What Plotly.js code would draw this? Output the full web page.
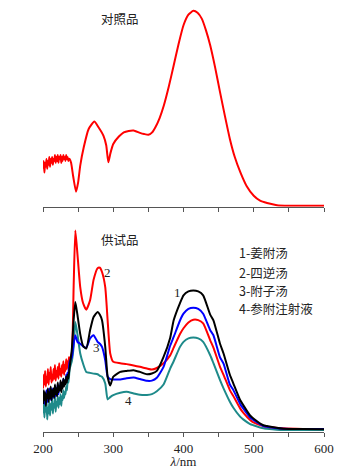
<!DOCTYPE html>
<html><head><meta charset="utf-8">
<script src="https://cdn.plot.ly/plotly-3.0.1.min.js"></script>
<style>html,body{margin:0;padding:0;background:#fff}#c{width:354px;height:469px}</style>
</head><body><div id="c"></div>
<script>
// Noisy start region wavelengths (nm)
const noiseX = [200,201,202,203,204,205,206,207,208,209,210,211,212,213,214,215,216,217,218,219,220,221,222,223,224,225,226,227,228,229,230,231,232,233,234,235,236,237,238];

// Top panel: reference substance (对照品)
const refMainX = [240,243,247,250,253,258,265,273,279,286,290,293,296,300,308,315,322,329,338,344,350,355,360,366,372,379,386,393,400,407,414,420,426,432,438,445,452,459,466,473,481,490,500,509,519,533,550,575,600];
const refNoiseY = [0.19,0.23,0.17,0.22,0.20,0.24,0.19,0.23,0.21,0.25,0.20,0.24,0.22,0.25,0.21,0.24,0.23,0.26,0.22,0.25,0.23,0.26,0.22,0.25,0.24,0.26,0.22,0.25,0.23,0.26,0.24,0.25,0.23,0.26,0.24,0.25,0.23,0.24,0.24];
const refMainY = [0.22,0.15,0.072,0.12,0.206,0.30,0.394,0.432,0.403,0.36,0.31,0.223,0.27,0.317,0.355,0.377,0.384,0.386,0.374,0.368,0.364,0.375,0.403,0.45,0.514,0.61,0.72,0.83,0.926,0.98,1.0,0.99,0.96,0.90,0.823,0.71,0.583,0.46,0.343,0.25,0.171,0.10,0.051,0.026,0.014,0.003,0.0,0.0,0.0];

// Bottom panel: samples (供试品)
const sampMainX = [241,243.6,246,249,253,257,261.6,267,272,277.7,281,284,288.6,292,295.7,300,310,319,329,338,348,355,362,371.6,381,386,395,400,407,414,421,428,438,442.6,452,457,466,471,480.6,485,494.8,499.5,513.7,518.5,542,570,600];

const s2Noise = [0.22,0.29,0.24,0.31,0.23,0.28,0.25,0.32,0.24,0.30,0.27,0.33,0.25,0.29,0.26,0.32,0.27,0.34,0.26,0.31,0.28,0.33,0.27,0.35,0.29,0.32,0.28,0.34,0.30,0.36,0.29,0.34,0.31,0.37,0.32,0.36,0.34,0.38,0.37];
const s2Main = [0.40,0.742,1.034,0.914,0.742,0.66,0.626,0.674,0.78,0.84,0.842,0.82,0.742,0.571,0.40,0.357,0.35,0.345,0.338,0.331,0.322,0.317,0.325,0.35,0.39,0.43,0.50,0.53,0.56,0.574,0.572,0.555,0.468,0.43,0.331,0.29,0.211,0.18,0.117,0.095,0.057,0.045,0.026,0.022,0.014,0.011,0.01];

const s1Noise = [0.14,0.21,0.16,0.20,0.13,0.19,0.17,0.22,0.15,0.20,0.17,0.23,0.16,0.21,0.18,0.22,0.17,0.24,0.19,0.22,0.18,0.25,0.20,0.23,0.21,0.26,0.20,0.25,0.22,0.27,0.23,0.26,0.24,0.28,0.25,0.29,0.27,0.30,0.33];
const s1Main = [0.42,0.571,0.665,0.60,0.50,0.44,0.425,0.52,0.588,0.614,0.60,0.571,0.434,0.28,0.235,0.28,0.305,0.31,0.314,0.305,0.293,0.297,0.31,0.382,0.48,0.571,0.66,0.70,0.72,0.725,0.72,0.70,0.60,0.571,0.45,0.40,0.29,0.245,0.16,0.134,0.08,0.065,0.03,0.026,0.012,0.01,0.009];

const s3Noise = [0.15,0.20,0.14,0.19,0.16,0.21,0.15,0.19,0.17,0.22,0.16,0.20,0.18,0.22,0.17,0.21,0.19,0.23,0.18,0.22,0.20,0.24,0.19,0.23,0.21,0.25,0.22,0.24,0.23,0.27,0.24,0.26,0.25,0.29,0.27,0.30,0.30,0.33,0.36];
const s3Main = [0.38,0.45,0.494,0.46,0.45,0.437,0.43,0.477,0.494,0.46,0.45,0.434,0.365,0.28,0.268,0.266,0.266,0.272,0.276,0.268,0.259,0.26,0.275,0.331,0.44,0.485,0.57,0.605,0.63,0.636,0.63,0.605,0.52,0.494,0.38,0.348,0.24,0.211,0.14,0.117,0.07,0.057,0.026,0.022,0.012,0.011,0.01];

const s4Noise = [0.09,0.15,0.07,0.13,0.10,0.16,0.06,0.12,0.09,0.15,0.08,0.14,0.11,0.17,0.09,0.14,0.12,0.18,0.10,0.15,0.13,0.18,0.12,0.17,0.14,0.19,0.13,0.18,0.16,0.21,0.17,0.20,0.19,0.23,0.21,0.25,0.25,0.28,0.32];
const s4Main = [0.36,0.434,0.562,0.50,0.40,0.348,0.305,0.30,0.296,0.293,0.285,0.28,0.245,0.163,0.175,0.185,0.197,0.202,0.194,0.187,0.186,0.19,0.205,0.24,0.322,0.36,0.434,0.46,0.478,0.482,0.478,0.46,0.391,0.35,0.262,0.22,0.151,0.12,0.074,0.06,0.036,0.03,0.014,0.012,0.005,0.005,0.005];

const tickVals = [200,250,300,350,400,450,500,550,600];
const tickText = ['200','','300','','400','','500','','600'];

const legendLines = ['1-姜附汤','2-四逆汤','3-附子汤','4-参附注射液'];
const curveLabels = ['1','2','3','4'];
const topTitle = '对照品';
const bottomTitle = '供试品';
const xTitle = '<i>λ</i>/nm';

const refX = noiseX.concat(refMainX), refY = refNoiseY.concat(refMainY);
const x2 = noiseX.concat(sampMainX);

const lw = 2;
const ln = (c)=>({color:c, width:lw, shape:'spline', smoothing:0.5});
const traces = [
  {x: refX, y: refY, xaxis:'x', yaxis:'y', mode:'lines', line:ln('#ff0000')},
  {x: x2, y: s4Noise.concat(s4Main), xaxis:'x2', yaxis:'y2', mode:'lines', line:ln('#1e8a8a')},
  {x: x2, y: s2Noise.concat(s2Main), xaxis:'x2', yaxis:'y2', mode:'lines', line:ln('#ff0000')},
  {x: x2, y: s3Noise.concat(s3Main), xaxis:'x2', yaxis:'y2', mode:'lines', line:ln('#0000ff')},
  {x: x2, y: s1Noise.concat(s1Main), xaxis:'x2', yaxis:'y2', mode:'lines', line:ln('#000000')}
];

const axisCommon = {range:[200,600], showgrid:false, zeroline:false, showline:true, linecolor:'#555', linewidth:1,
  ticks:'outside', ticklen:4, tickcolor:'#555', tickwidth:1, tickvals: tickVals, ticktext: tickText, fixedrange:true};

const cjk = '"Noto Sans CJK SC", sans-serif';
const serif = '"Liberation Serif", "Times New Roman", serif';

const ann = [
  {xref:'x', yref:'y', x:310, y:0.96, text: topTitle, showarrow:false, font:{family:cjk, size:12.5, color:'#222'}},
  {xref:'x2', yref:'y2', x:310, y:0.99, text: bottomTitle, showarrow:false, font:{family:cjk, size:12.5, color:'#222'}},
  {xref:'x2', yref:'y2', x:392, y:0.715, text: curveLabels[0], showarrow:false, font:{family:serif, size:13, color:'#222'}},
  {xref:'x2', yref:'y2', x:292, y:0.815, text: curveLabels[1], showarrow:false, font:{family:serif, size:13, color:'#222'}},
  {xref:'x2', yref:'y2', x:276, y:0.429, text: curveLabels[2], showarrow:false, font:{family:serif, size:13, color:'#222'}},
  {xref:'x2', yref:'y2', x:321, y:0.158, text: curveLabels[3], showarrow:false, font:{family:serif, size:13, color:'#222'}}
];
const legY = [0.919, 0.818, 0.724, 0.631];
legendLines.forEach((t,i)=>{
  ann.push({xref:'x2', yref:'y2', x:476, y:legY[i], xanchor:'left', text:t, showarrow:false,
    font:{family:cjk, size:12.5, color:'#222'}});
});

const layout = {
  width:354, height:469, margin:{l:43, r:30, t:5, b:37},
  paper_bgcolor:'#fff', plot_bgcolor:'#fff', showlegend:false,
  xaxis: Object.assign({}, axisCommon, {anchor:'y', showticklabels:false}),
  yaxis: {domain:[0.5276,1], range:[-0.005,1.03], visible:false, fixedrange:true},
  xaxis2: Object.assign({}, axisCommon, {anchor:'y2', showticklabels:true,
    tickfont:{family:serif, size:13, color:'#222'},
    title:{text:xTitle, font:{family:serif, size:13, color:'#222'}, standoff:4}}),
  yaxis2: {domain:[0,0.485], range:[-0.005,1.063], visible:false, fixedrange:true},
  annotations: ann
};
Plotly.newPlot('c', traces, layout, {displayModeBar:false, staticPlot:true});
</script></body></html>
